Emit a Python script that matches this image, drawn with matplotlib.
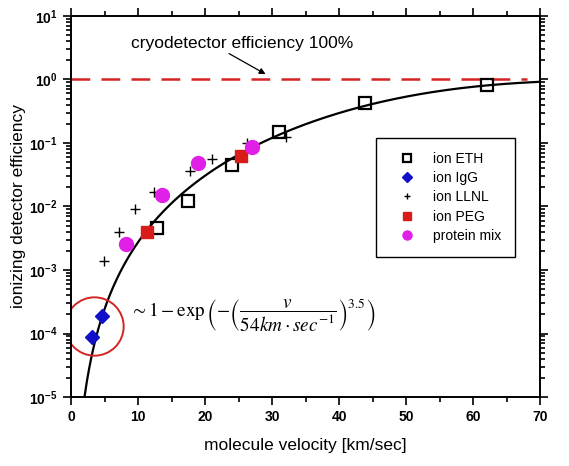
# ionizing detector efficiency vs molecule velocity, with fit ~1-exp(-(v/54)^3.5)
import numpy as np
import matplotlib.pyplot as plt
from matplotlib.ticker import FixedLocator, LogLocator, NullFormatter

plt.rcParams['font.family'] = ['Liberation Sans', 'DejaVu Sans']
plt.rcParams['mathtext.fontset'] = 'custom'
plt.rcParams['mathtext.rm'] = 'Liberation Sans'
plt.rcParams['mathtext.bf'] = 'Liberation Sans:bold'

# data
eth_v = [12.8, 17.5, 24.0, 31.0, 43.9, 62.1]
eth_eff = [4.5e-3, 0.012, 0.045, 0.15, 0.42, 0.83]

igg_v = [3.2, 4.6]
igg_eff = [8.7e-5, 1.9e-4]

llnl_v = [4.9, 7.2, 9.5, 12.4, 17.8, 21.0, 26.2, 32.1]
llnl_eff = [1.4e-3, 4.0e-3, 9.0e-3, 0.017, 0.036, 0.055, 0.10, 0.126]

peg_v = [11.3, 25.3]
peg_eff = [3.9e-3, 0.063]

prot_v = [8.2, 13.6, 18.9, 27.0]
prot_eff = [2.6e-3, 0.015, 0.048, 0.085]

# fit parameters as written on the chart
v0 = 54.0
n_exp = 3.5

v = np.linspace(1.5, 70, 400)
fit = 1 - np.exp(-(v / v0)**n_exp)

fig = plt.figure(figsize=(5.69, 4.66), dpi=100)
ax = fig.add_axes([0.1248, 0.148, 0.8243, 0.818])

ax.plot([0, 68], [1, 1], color='#d42424', lw=1.8, dashes=(7.5, 4.5))
ax.plot(v, fit, color='black', lw=1.6)

ax.plot(eth_v, eth_eff, 's', ms=8.5, mfc='none', mec='black', mew=1.6, label='ion ETH')
ax.plot(igg_v, igg_eff, 'D', ms=7.5, color='#1010c8', label='ion IgG')
ax.plot(llnl_v, llnl_eff, '+', ms=7.5, mew=1.0, color='black', label='ion LLNL')
ax.plot(peg_v, peg_eff, 's', ms=8.5, color='#d81c1c', label='ion PEG')
ax.plot(prot_v, prot_eff, 'o', ms=10, color='#e020e6', label='protein mix')

# red circle around the IgG points
ax.plot([3.4], [1.3e-4], 'o', ms=42, mfc='none', mec='#d42424', mew=1.4)

ax.set_yscale('log')
ax.set_xlim(0, 70)
ax.set_ylim(1e-5, 10)
ax.xaxis.set_major_locator(FixedLocator(range(0, 71, 10)))
ax.xaxis.set_minor_locator(FixedLocator(range(5, 70, 10)))
ax.yaxis.set_minor_locator(LogLocator(base=10, subs=np.arange(2, 10), numticks=20))
ax.yaxis.set_minor_formatter(NullFormatter())
ax.set_yticks([1e-5, 1e-4, 1e-3, 1e-2, 1e-1, 1, 10])
ax.set_yticklabels([r'$\mathbf{10^{-5}}$', r'$\mathbf{10^{-4}}$', r'$\mathbf{10^{-3}}$',
                    r'$\mathbf{10^{-2}}$', r'$\mathbf{10^{-1}}$', r'$\mathbf{10^{0}}$',
                    r'$\mathbf{10^{1}}$'])
for lab in ax.get_xticklabels():
    lab.set_fontweight('bold')
ax.tick_params(which='both', direction='out', top=True, right=True, labelsize=10, width=1.2)
ax.tick_params(which='major', length=6)
ax.tick_params(which='minor', length=3.5)
for s in ax.spines.values():
    s.set_linewidth(1.4)

ax.set_xlabel('molecule velocity [km/sec]', fontsize=12.5, labelpad=10)
ax.set_ylabel('ionizing detector efficiency', fontsize=12.5, labelpad=2)

ax.annotate('cryodetector efficiency 100%', xy=(29.4, 1.15), xytext=(25.5, 3.7),
            ha='center', va='center', fontsize=12.5,
            arrowprops=dict(arrowstyle='-|>', color='black', lw=0.9, mutation_scale=9,
                            shrinkA=0, relpos=(0.42, 0.0)))

ax.text(8.8, 1.9e-4,
        r'$\sim 1-\exp\left(-\left(\dfrac{v}{54km\cdot sec^{-1}}\right)^{3.5}\right)$',
        math_fontfamily='stix', fontsize=13.8, ha='left', va='center')

leg = ax.legend(loc='upper left', bbox_to_anchor=(0.650, 0.680), borderaxespad=0,
                fontsize=10, markerscale=0.65, fancybox=False, edgecolor='black',
                framealpha=1, handletextpad=0.6, borderpad=1.0, labelspacing=0.38,
                handlelength=2.5)
leg.get_frame().set_linewidth(1.0)

fig.savefig('out.png', dpi=100)
